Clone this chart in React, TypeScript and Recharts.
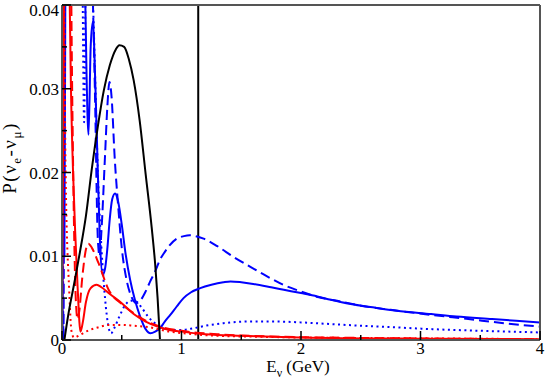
import { LineChart, Line, XAxis, YAxis, ReferenceLine } from 'recharts'

const SERIF = '"Liberation Serif", "DejaVu Serif", serif'

// energies (GeV) and probabilities, one pair per curve
const blackE = [0.02, 0.05, 0.1, 0.15, 0.2, 0.25, 0.3, 0.35, 0.4, 0.45, 0.48, 0.52, 0.56, 0.6, 0.65, 0.7, 0.75, 0.78, 0.8, 0.82]
const blackP = [0, 0.0028, 0.0066, 0.0105, 0.0148, 0.0205, 0.0255, 0.0298, 0.0328, 0.0347, 0.0352, 0.035, 0.0335, 0.031, 0.0262, 0.0198, 0.0135, 0.009, 0.005, 0]

const blueSolidE = [0.005, 0.012, 0.02, 0.03, 0.05, 0.1, 0.15, 0.19, 0.205, 0.222, 0.24, 0.258, 0.28, 0.3, 0.32, 0.34, 0.36, 0.38, 0.4, 0.42, 0.444, 0.47, 0.5, 0.53, 0.57, 0.61, 0.654, 0.7, 0.74, 0.78, 0.82, 0.86, 0.906, 0.96, 1.017, 1.08, 1.157, 1.25, 1.35, 1.41, 1.5, 1.6, 1.75, 1.856, 2.0, 2.136, 2.25, 2.415, 2.6, 2.8, 3.09, 3.3, 3.6, 4.0]
const blueSolidP = [0, 0.045, 0.01, 0.05, 0.06, 0.08, 0.07, 0.045, 0.032, 0.0245, 0.035, 0.038, 0.03, 0.02, 0.011, 0.0078, 0.0085, 0.011, 0.0145, 0.0168, 0.0175, 0.0165, 0.0138, 0.0105, 0.0072, 0.0048, 0.0028, 0.0013, 0.0008, 0.001, 0.0014, 0.0022, 0.003, 0.004, 0.005, 0.0057, 0.0062, 0.0066, 0.0069, 0.007, 0.0069, 0.0067, 0.0063, 0.006, 0.0056, 0.0052, 0.0048, 0.0043, 0.0039, 0.0035, 0.0031, 0.0028, 0.0025, 0.0021]

const blueDashE = [0.004, 0.012, 0.025, 0.1, 0.2, 0.25, 0.275, 0.3, 0.315, 0.33, 0.36, 0.38, 0.397, 0.415, 0.44, 0.47, 0.5, 0.54, 0.58, 0.62, 0.66, 0.7, 0.738, 0.78, 0.82, 0.85, 0.9, 0.96, 1.02, 1.068, 1.12, 1.185, 1.3, 1.437, 1.58, 1.716, 1.85, 1.996, 2.15, 2.33, 2.5, 2.75, 3.09, 3.4, 3.7, 4.0]
const blueDashP = [0.05, 0, 0.06, 0.09, 0.06, 0.045, 0.03, 0.012, 0.01, 0.013, 0.022, 0.028, 0.0308, 0.029, 0.022, 0.016, 0.011, 0.0072, 0.0052, 0.0044, 0.0048, 0.0058, 0.007, 0.0082, 0.0096, 0.0103, 0.0113, 0.0121, 0.0124, 0.0125, 0.0124, 0.0121, 0.0112, 0.0099, 0.0087, 0.0076, 0.0066, 0.0058, 0.0051, 0.0046, 0.0041, 0.0036, 0.003, 0.0025, 0.002, 0.0016]

const blueDotE = [0.004, 0.01, 0.1, 0.17, 0.185, 0.2, 0.22, 0.26, 0.28, 0.3, 0.33, 0.36, 0.39, 0.41, 0.44, 0.48, 0.53, 0.58, 0.62, 0.67, 0.72, 0.76, 0.82, 0.9, 1.0, 1.1, 1.2, 1.35, 1.55, 1.8, 2.0, 2.25, 2.5, 2.8, 3.09, 3.5, 4.0]
const blueDotP = [0, 0.05, 0.08, 0.045, 0.026, 0.045, 0.05, 0.04, 0.03, 0.02, 0.011, 0.005, 0.0015, 0.0008, 0.0015, 0.0028, 0.0042, 0.0047, 0.0046, 0.0038, 0.0028, 0.0022, 0.0016, 0.0012, 0.0012, 0.0014, 0.0017, 0.002, 0.0022, 0.0022, 0.0021, 0.0019, 0.0017, 0.0015, 0.0013, 0.0011, 0.0009]

const redSolidE = [0, 0.02, 0.04, 0.06, 0.075, 0.092, 0.11, 0.13, 0.155, 0.175, 0.2, 0.24, 0.29, 0.33, 0.4, 0.5, 0.6, 0.7, 0.8, 0.9, 1.0, 1.2, 1.5, 2.0, 3.0, 4.0]
const redSolidP = [0, 0.05, 0.06, 0.045, 0.03, 0.0203, 0.013, 0.0065, 0.001, 0.0022, 0.0045, 0.0062, 0.0066, 0.0063, 0.0055, 0.0044, 0.0031, 0.0022, 0.0016, 0.0012, 0.001, 0.0007, 0.0005, 0.0003, 0.00015, 0.0001]

const redDashE = [0, 0.03, 0.07, 0.085, 0.1, 0.115, 0.13, 0.145, 0.17, 0.2, 0.221, 0.25, 0.305, 0.39, 0.5, 0.6, 0.7, 0.8, 1.0, 1.3, 1.8, 2.5, 4.0]
const redDashP = [0.03, 0.06, 0.05, 0.03, 0.014, 0.005, 0.0025, 0.0035, 0.0075, 0.0108, 0.0115, 0.011, 0.0092, 0.006, 0.0043, 0.0032, 0.0023, 0.0017, 0.0011, 0.0007, 0.0004, 0.00025, 0.0001]

const redDotE = [0, 0.01, 0.03, 0.06, 0.08, 0.1, 0.15, 0.2, 0.3, 0.4, 0.5, 0.6, 0.738, 0.9, 1.02, 1.3, 1.6, 2.0, 3.0, 4.0]
const redDotP = [0.02, 0.05, 0.02, 0.006, 0.001, 0.0003, 0.0006, 0.001, 0.0015, 0.0018, 0.0018, 0.0017, 0.0015, 0.001, 0.0008, 0.0005, 0.0004, 0.0003, 0.0002, 0.0001]

const markerE = 1.14

const xTicks = [0, 0.5, 1, 1.5, 2, 2.5, 3, 3.5, 4]
const yTicks = [0, 0.005, 0.01, 0.015, 0.02, 0.025, 0.03, 0.035, 0.04]

const zip = (xs: number[], ys: number[]) => xs.map((x, i) => ({ x, y: ys[i] }))

const series = [
  { key: 'blueDot', data: zip(blueDotE, blueDotP), color: '#0000ff', dash: '2 3.5' },
  { key: 'blueDash', data: zip(blueDashE, blueDashP), color: '#0000ff', dash: '10 5' },
  { key: 'blueSolid', data: zip(blueSolidE, blueSolidP), color: '#0000ff', dash: undefined },
  { key: 'redDot', data: zip(redDotE, redDotP), color: '#ff0000', dash: '2 3.5' },
  { key: 'redDash', data: zip(redDashE, redDashP), color: '#ff0000', dash: '10 5' },
  { key: 'redSolid', data: zip(redSolidE, redSolidP), color: '#ff0000', dash: undefined },
  { key: 'black', data: zip(blackE, blackP), color: '#000000', dash: undefined },
]

const isMajorX = (v: number) => Math.abs(v - Math.round(v)) < 1e-9
const isMajorY = (v: number) => Math.abs(v * 100 - Math.round(v * 100)) < 1e-6
const fmtY = (v: number) => (v === 0 ? '0' : v.toFixed(2))

const labelStyle = { fontFamily: SERIF, fontSize: 17, fill: '#000' }

function BottomTick({ x, y, payload }: any) {
  const major = isMajorX(payload.value)
  return (
    <g>
      <line x1={x} x2={x} y1={y} y2={y - (major ? 9 : 5)} stroke="#000" strokeWidth={1.5} />
      {major && (
        <text x={x} y={y + 14} textAnchor="middle" {...labelStyle}>
          {payload.value}
        </text>
      )}
    </g>
  )
}

function TopTick({ x, y, payload }: any) {
  const major = isMajorX(payload.value)
  return <line x1={x} x2={x} y1={y} y2={y + (major ? 9 : 5)} stroke="#000" strokeWidth={1.5} />
}

function LeftTick({ x, y, payload }: any) {
  const major = isMajorY(payload.value)
  return (
    <g>
      <line x1={x} x2={x + (major ? 9 : 5)} y1={y} y2={y} stroke="#000" strokeWidth={1.5} />
      {major && (
        <text x={x - 3} y={Math.max(y + 6, 16)} textAnchor="end" {...labelStyle}>
          {fmtY(payload.value)}
        </text>
      )}
    </g>
  )
}

function RightTick({ x, y, payload }: any) {
  const major = isMajorY(payload.value)
  return <line x1={x} x2={x - (major ? 9 : 5)} y1={y} y2={y} stroke="#000" strokeWidth={1.5} />
}

const frame = { stroke: '#555', strokeWidth: 2 }

export default function App() {
  return (
    <div style={{ position: 'absolute', left: 0, top: 0, width: 545, height: 382, background: '#fff' }}>
      <LineChart width={545} height={382} margin={{ top: 0, right: 0, bottom: 0, left: 0 }}>
        <XAxis
          type="number"
          dataKey="x"
          domain={[0, 4]}
          ticks={xTicks}
          interval={0}
          height={42}
          tickSize={0}
          tickMargin={0}
          tickLine={false}
          axisLine={frame}
          tick={<BottomTick />}
          allowDataOverflow
        />
        <XAxis
          xAxisId="top"
          orientation="top"
          type="number"
          dataKey="x"
          domain={[0, 4]}
          ticks={xTicks}
          interval={0}
          height={5}
          tickSize={0}
          tickMargin={0}
          tickLine={false}
          axisLine={frame}
          tick={<TopTick />}
        />
        <YAxis
          type="number"
          domain={[0, 0.04]}
          ticks={yTicks}
          interval={0}
          width={62}
          tickSize={0}
          tickMargin={0}
          tickLine={false}
          axisLine={frame}
          tick={<LeftTick />}
          allowDataOverflow
        />
        <YAxis
          yAxisId="right"
          orientation="right"
          type="number"
          domain={[0, 0.04]}
          ticks={yTicks}
          interval={0}
          width={5}
          tickSize={0}
          tickMargin={0}
          tickLine={false}
          axisLine={frame}
          tick={<RightTick />}
        />
        <ReferenceLine x={markerE} stroke="#000" strokeWidth={2} />
        {series.map((s) => (
          <Line
            key={s.key}
            data={s.data}
            dataKey="y"
            type="monotone"
            stroke={s.color}
            strokeWidth={2}
            strokeDasharray={s.dash}
            dot={false}
            activeDot={false}
            isAnimationActive={false}
          />
        ))}
      </LineChart>
      <div
        style={{
          position: 'absolute',
          left: 298,
          top: 369,
          transform: 'translate(-50%, -50%)',
          fontFamily: SERIF,
          fontSize: 17,
          whiteSpace: 'nowrap',
        }}
      >
        E<sub style={{ fontSize: 12 }}>ν</sub> (GeV)
      </div>
      <div
        style={{
          position: 'absolute',
          left: 12,
          top: 158,
          transform: 'translate(-50%, -50%) rotate(-90deg)',
          fontFamily: SERIF,
          fontSize: 19,
          letterSpacing: 1.5,
          whiteSpace: 'nowrap',
        }}
      >
        P(ν<sub style={{ fontSize: 13 }}>e</sub>-ν<sub style={{ fontSize: 13 }}>μ</sub>)
      </div>
    </div>
  )
}
